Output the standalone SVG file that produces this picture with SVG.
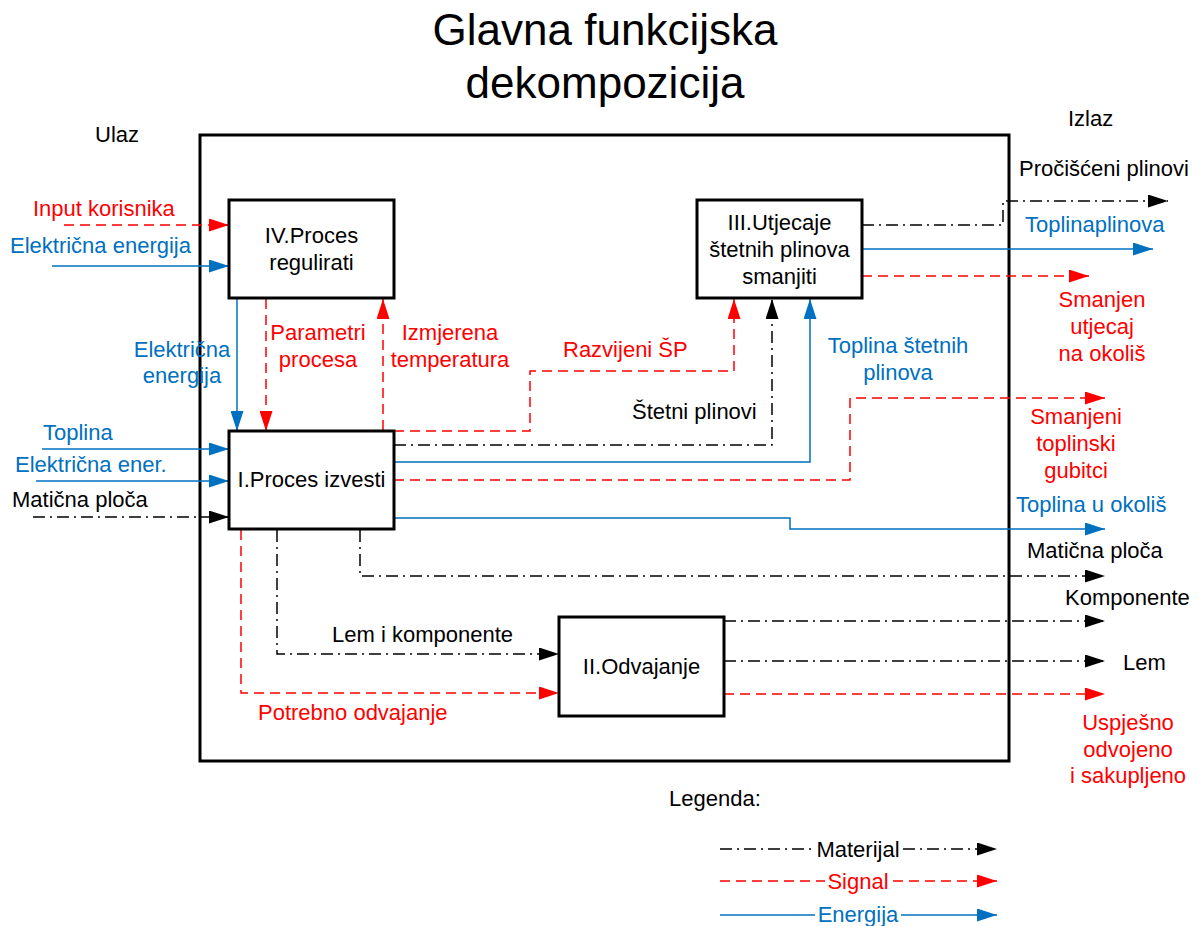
<svg xmlns="http://www.w3.org/2000/svg" width="1203" height="926" viewBox="0 0 1203 926">
<style>
text{font-family:"Liberation Sans",Arial,sans-serif;font-size:22px}
.k{fill:#000}.r{fill:#FF0000}.b{fill:#0070C0}
.m{text-anchor:middle}
.box{fill:#fff;stroke:#000;stroke-width:3}
.lk{fill:none;stroke:#000;stroke-width:1.5;stroke-dasharray:12,5,2,5}
.lr{fill:none;stroke:#FF0000;stroke-width:1.5;stroke-dasharray:10,6}
.lb{fill:none;stroke:#0070C0;stroke-width:1.5}
.ak{marker-end:url(#ak)}.ar{marker-end:url(#ar)}.ab{marker-end:url(#ab)}
</style>
<defs>
<marker id="ak" markerUnits="userSpaceOnUse" markerWidth="20" markerHeight="13" refX="20" refY="6.5" orient="auto"><path d="M0,0 L20,6.5 L0,13 z" fill="#000"/></marker>
<marker id="ar" markerUnits="userSpaceOnUse" markerWidth="20" markerHeight="13" refX="20" refY="6.5" orient="auto"><path d="M0,0 L20,6.5 L0,13 z" fill="#FF0000"/></marker>
<marker id="ab" markerUnits="userSpaceOnUse" markerWidth="20" markerHeight="13" refX="20" refY="6.5" orient="auto"><path d="M0,0 L20,6.5 L0,13 z" fill="#0070C0"/></marker>
</defs>
<rect width="1203" height="926" fill="#fff"/>
<g id="title">
<text x="605" y="45" class="k m" style="font-size:44px">Glavna funkcijska</text>
<text x="605" y="98" class="k m" style="font-size:44px">dekompozicija</text>
<text x="95" y="142" class="k">Ulaz</text>
<text x="1068" y="126" class="k">Izlaz</text>
</g>
<g id="frame"><rect x="200" y="135" width="809" height="626" fill="none" stroke="#000" stroke-width="3"/></g>
<g id="connectors">
<!-- inputs -->
<path class="lr ar" d="M64,225 H229"/>
<path class="lb ab" d="M52,266 H229"/>
<path class="lb ab" d="M42,449 H229"/>
<path class="lb ab" d="M36,481 H229"/>
<path class="lk ak" d="M33,517 H229"/>
<!-- IV <-> I -->
<path class="lb ab" d="M237,299 V431"/>
<path class="lr ar" d="M266,299 V431"/>
<path class="lr ar" d="M383,430 V299"/>
<!-- I -> III -->
<path class="lr ar" d="M394,431 H530 V371 H734 V299"/>
<path class="lk ak" d="M394,445 H772 V299"/>
<path class="lb ab" d="M394,462 H810 V299"/>
<path class="lr ar" d="M394,480 H850 V398 H1105"/>
<path class="lb ab" d="M394,518 H790 V529 H1105"/>
<!-- I bottom -->
<path class="lk ak" d="M360,530 V576 H1105"/>
<path class="lk ak" d="M277,530 V654 H559"/>
<path class="lr ar" d="M241,530 V693 H559"/>
<!-- III outputs -->
<path class="lk ak" d="M862,225 H1003 V201 H1168"/>
<path class="lb ab" d="M862,249 H1153"/>
<path class="lr ar" d="M862,276 H1089"/>
<!-- II outputs -->
<path class="lk ak" d="M724,621 H1105"/>
<path class="lk ak" d="M724,661 H1105"/>
<path class="lr ar" d="M724,694 H1105"/>
</g>
<g id="node-IV"><rect class="box" x="229" y="200" width="165" height="98"/>
<text x="311.5" y="243" class="k m">IV.Proces</text><text x="311.5" y="270" class="k m">regulirati</text></g>
<g id="node-I"><rect class="box" x="229" y="431" width="165" height="98"/>
<text x="311.5" y="487" class="k m">I.Proces izvesti</text></g>
<g id="node-III"><rect class="box" x="697" y="200" width="165" height="98"/>
<text x="779.5" y="230" class="k m">III.Utjecaje</text><text x="779.5" y="257" class="k m">štetnih plinova</text><text x="779.5" y="284" class="k m">smanjiti</text></g>
<g id="node-II"><rect class="box" x="559" y="617" width="165" height="99"/>
<text x="641.5" y="674" class="k m">II.Odvajanje</text></g>
<g id="labels">
<text x="33" y="216" class="r">Input korisnika</text>
<text x="10" y="253" class="b">Električna energija</text>
<text x="43" y="440" class="b">Toplina</text>
<text x="15" y="472" class="b">Električna ener.</text>
<text x="12" y="507" class="k">Matična ploča</text>
<text x="182" y="357" class="b m">Električna</text>
<text x="182" y="383" class="b m">energija</text>
<text x="318" y="340" class="r m">Parametri</text>
<text x="318" y="367" class="r m">procesa</text>
<text x="450" y="340" class="r m">Izmjerena</text>
<text x="450" y="367" class="r m">temperatura</text>
<text x="563" y="357" class="r">Razvijeni ŠP</text>
<text x="632" y="419" class="k">Štetni plinovi</text>
<text x="898" y="353" class="b m">Toplina štetnih</text>
<text x="898" y="380" class="b m">plinova</text>
<text x="1019" y="176" class="k">Pročišćeni plinovi</text>
<text x="1025" y="232" class="b">Toplinaplinova</text>
<text x="1102" y="307" class="r m">Smanjen</text>
<text x="1102" y="334" class="r m">utjecaj</text>
<text x="1102" y="361" class="r m">na okoliš</text>
<text x="1076" y="424" class="r m">Smanjeni</text>
<text x="1076" y="451" class="r m">toplinski</text>
<text x="1076" y="478" class="r m">gubitci</text>
<text x="1016" y="512" class="b">Toplina u okoliš</text>
<text x="1027" y="558" class="k">Matična ploča</text>
<text x="1065" y="605" class="k">Komponente</text>
<text x="1123" y="670" class="k">Lem</text>
<text x="1128" y="730" class="r m">Uspješno</text>
<text x="1128" y="757" class="r m">odvojeno</text>
<text x="1128" y="783" class="r m">i sakupljeno</text>
<text x="332" y="642" class="k">Lem i komponente</text>
<text x="258" y="720" class="r">Potrebno odvajanje</text>
</g>
<g id="legend">
<text x="669" y="806" class="k">Legenda:</text>
<path class="lk" d="M720,849 H815"/><path class="lk ak" d="M903,849 H997"/>
<text x="858" y="857" class="k m">Materijal</text>
<path class="lr" d="M720,881 H825"/><path class="lr ar" d="M893,881 H997"/>
<text x="858" y="889" class="r m">Signal</text>
<path class="lb" d="M720,915 H815"/><path class="lb ab" d="M901,915 H997"/>
<text x="858" y="922" class="b m">Energija</text>
</g>
</svg>
